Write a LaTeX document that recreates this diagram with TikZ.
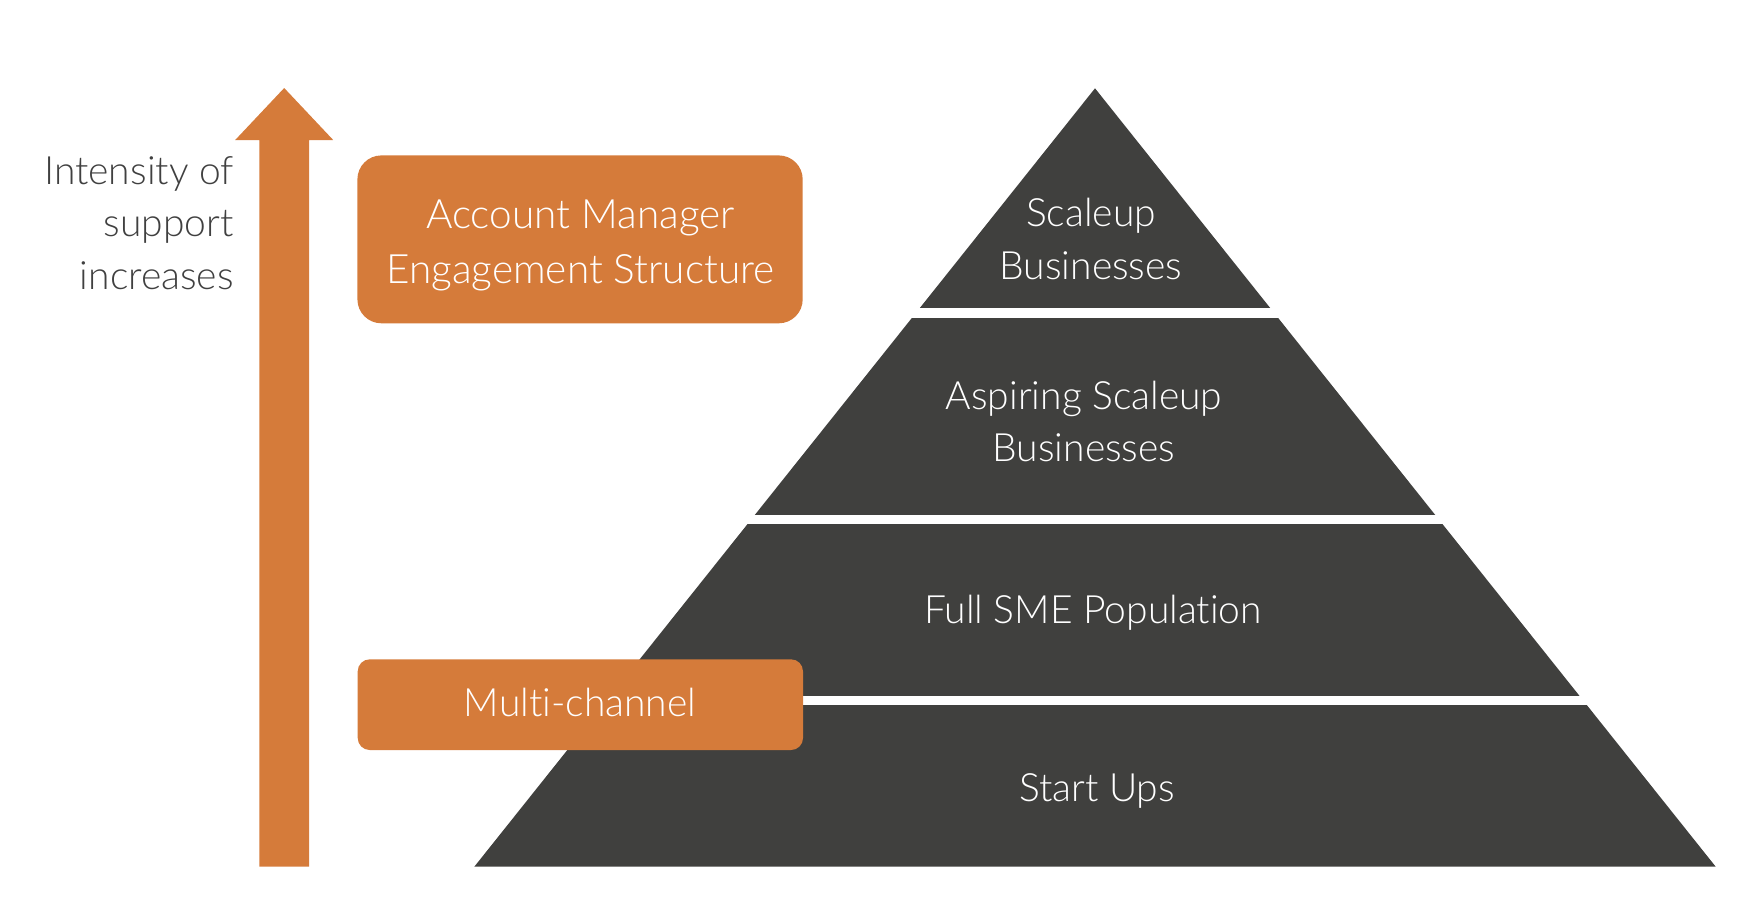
\documentclass[tikz,border=0pt]{standalone}
\usepackage{fontspec}
\setmainfont{Lato}[UprightFont=* Light, Ligatures={NoCommon}]
\definecolor{orangeA}{RGB}{213,123,58}
\definecolor{pyrgray}{RGB}{64,64,62}
\definecolor{txtgray}{RGB}{64,64,64}
\begin{document}
\begin{tikzpicture}[x=1pt,y=-1pt,
  lbl/.style={font=\fontsize{39}{52.5}\selectfont, align=center, anchor=base, inner sep=0pt},
  wlbl/.style={lbl, text=white},
  obox/.style={fill=orangeA, draw=none}]
\useasboundingbox (0,0) rectangle (1763,922);
% pyramid
\coordinate (apex) at (1095,88.3);
\coordinate (bl) at (474.3,866.7);
\coordinate (br) at (1715.7,866.7);
\fill[pyrgray] (apex) -- (br) -- (bl) -- cycle;
\fill[white] (400,308.3) rectangle (1800,317.7);
\fill[white] (400,515) rectangle (1800,524.3);
\fill[white] (400,696) rectangle (1800,705.3);
% arrow
\fill[orangeA] (284.2,88) -- (333.2,140) -- (309,140) -- (309,866.7) -- (259.4,866.7) -- (259.4,140) -- (235.2,140) -- cycle;
% boxes
\fill[obox, rounded corners=24pt] (357.4,155.4) rectangle (802.7,323.3);
\fill[obox, rounded corners=12pt] (357.7,659.3) rectangle (803,750);
% texts (base anchor = last line baseline)
\node[lbl, text=txtgray, align=right, anchor=base east] (intens) at (234,289.3) {Intensity of\\support\\increases};
\node[wlbl, font=\fontsize{40.5}{55}\selectfont] (acct) at (580.5,283.8) {Account Manager\\Engagement Structure};
\node[wlbl] (multi) at (580,716) {Multi-channel};
\node[wlbl] (scale) at (1091,279.3) {Scaleup\\Businesses};
\node[wlbl] (asp) at (1084,461.7) {Aspiring Scaleup\\Businesses};
\node[wlbl] (sme) at (1093,623.3) {Full SME Population};
\node[wlbl] (start) at (1097,801.7) {Start Ups};
\end{tikzpicture}
\end{document}
